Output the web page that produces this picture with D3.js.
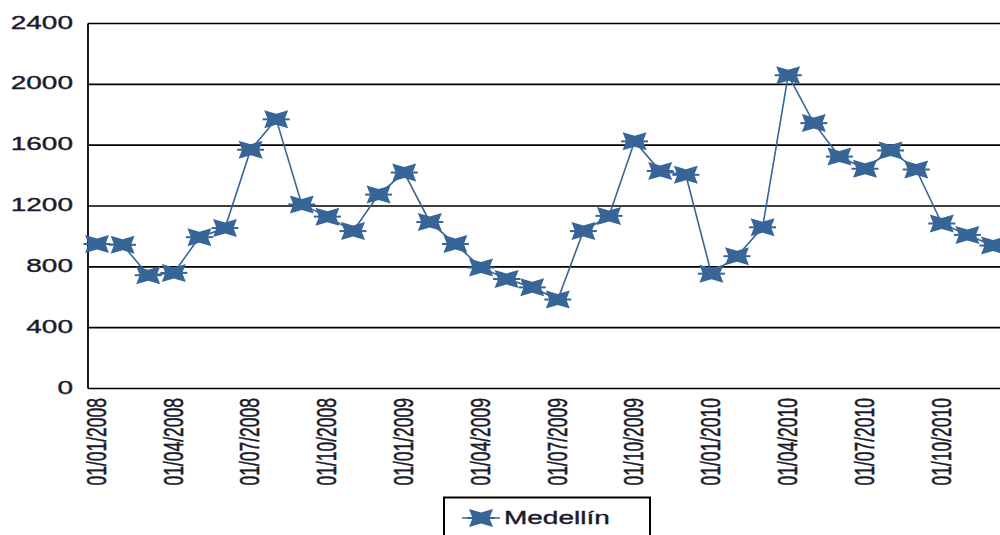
<!DOCTYPE html>
<html>
<head>
<meta charset="utf-8">
<script src="https://cdn.jsdelivr.net/npm/d3@7"></script>
<style>
  html, body { margin: 0; padding: 0; background: #fff; }
  svg { display: block; }
  text { font-family: "Liberation Sans", Arial, sans-serif; }
</style>
</head>
<body>
<svg id="chart" width="1000" height="535"></svg>
<script>
// Monthly series, Jan 2008 – Dec 2010
const months = [
  "01/01/2008","01/02/2008","01/03/2008","01/04/2008","01/05/2008","01/06/2008",
  "01/07/2008","01/08/2008","01/09/2008","01/10/2008","01/11/2008","01/12/2008",
  "01/01/2009","01/02/2009","01/03/2009","01/04/2009","01/05/2009","01/06/2009",
  "01/07/2009","01/08/2009","01/09/2009","01/10/2009","01/11/2009","01/12/2009",
  "01/01/2010","01/02/2010","01/03/2010","01/04/2010","01/05/2010","01/06/2010",
  "01/07/2010","01/08/2010","01/09/2010","01/10/2010","01/11/2010","01/12/2010"
];
const medellin = [
  950, 945, 745, 760, 995, 1055, 1570, 1770, 1210, 1130, 1035, 1275,
  1420, 1095, 950, 795, 720, 665, 585, 1035, 1135, 1625, 1430, 1405,
  755, 870, 1060, 2060, 1745, 1525, 1445, 1565, 1440, 1085, 1010, 940
];
const yTicks = [0, 400, 800, 1200, 1600, 2000, 2400];
const xLabelStep = 3;
const seriesName = "Medellín";

const svg = d3.select("#chart");
const colour = "#386598";
const textColour = "#1a1a2a";
const stretch = 1.6;   // wide glyphs

const plotLeft = 88, plotRight = 1010, plotTop = 23.5, plotBottom = 388.5;

const x = d3.scalePoint().domain(months).range([97, 993]);
const y = d3.scaleLinear().domain([0, 2400]).range([plotBottom, plotTop]);

// horizontal gridlines
svg.append("g").selectAll("line")
  .data(yTicks)
  .join("line")
  .attr("x1", plotLeft).attr("x2", plotRight)
  .attr("y1", d => y(d)).attr("y2", d => y(d))
  .attr("stroke", "#000").attr("stroke-width", 1.6);

// value axis line
svg.append("line")
  .attr("x1", plotLeft).attr("x2", plotLeft)
  .attr("y1", plotTop).attr("y2", plotBottom)
  .attr("stroke", "#000").attr("stroke-width", 1.8);

function styleText(sel) {
  sel.attr("font-size", 17.5)
    .attr("fill", textColour)
    .attr("stroke", textColour)
    .attr("stroke-width", 0.35);
}

// y tick labels
svg.append("g").selectAll("text")
  .data(yTicks)
  .join("text")
  .attr("transform", d => `translate(73,${y(d) - 1}) scale(${stretch},1)`)
  .attr("text-anchor", "end")
  .attr("dy", "0.35em")
  .call(styleText)
  .text(d => d);

// x tick labels, rotated
svg.append("g").selectAll("text")
  .data(months.filter((m, i) => i % xLabelStep === 0))
  .join("text")
  .attr("transform", d => `translate(${x(d) - 1},398) scale(${stretch},1) rotate(-90)`)
  .attr("text-anchor", "end")
  .attr("dy", "0.35em")
  .call(styleText)
  .text(d => d);

// four-point star marker
function marker(g) {
  g.append("path")
    .attr("d", "M-12,-9L0,-5.5L12,-9L8.5,0L12,9L0,5.5L-12,9L-8.5,0Z")
    .attr("fill", colour);
  g.append("path")
    .attr("d", "M-13.5,0L13.5,0")
    .attr("stroke", colour).attr("stroke-width", 2);
}

// series line
const line = d3.line().x((d, i) => x(months[i])).y(d => y(d));
svg.append("path")
  .datum(medellin)
  .attr("d", line)
  .attr("fill", "none")
  .attr("stroke", colour)
  .attr("stroke-width", 1.6);

svg.append("g").selectAll("g")
  .data(medellin)
  .join("g")
  .attr("transform", (d, i) => `translate(${x(months[i])},${y(d)})`)
  .each(function () { marker(d3.select(this)); });

// legend
const lg = svg.append("g");
lg.append("rect")
  .attr("x", 444).attr("y", 497.5).attr("width", 206).attr("height", 60)
  .attr("fill", "#fff").attr("stroke", "#000").attr("stroke-width", 2);
lg.append("line")
  .attr("x1", 462).attr("x2", 500).attr("y1", 518).attr("y2", 518)
  .attr("stroke", colour).attr("stroke-width", 1.6);
marker(lg.append("g").attr("transform", "translate(481,518)"));
lg.append("text")
  .attr("transform", `translate(504,518) scale(${stretch},1)`)
  .attr("dy", "0.35em")
  .call(styleText)
  .text(seriesName);
</script>
</body>
</html>
